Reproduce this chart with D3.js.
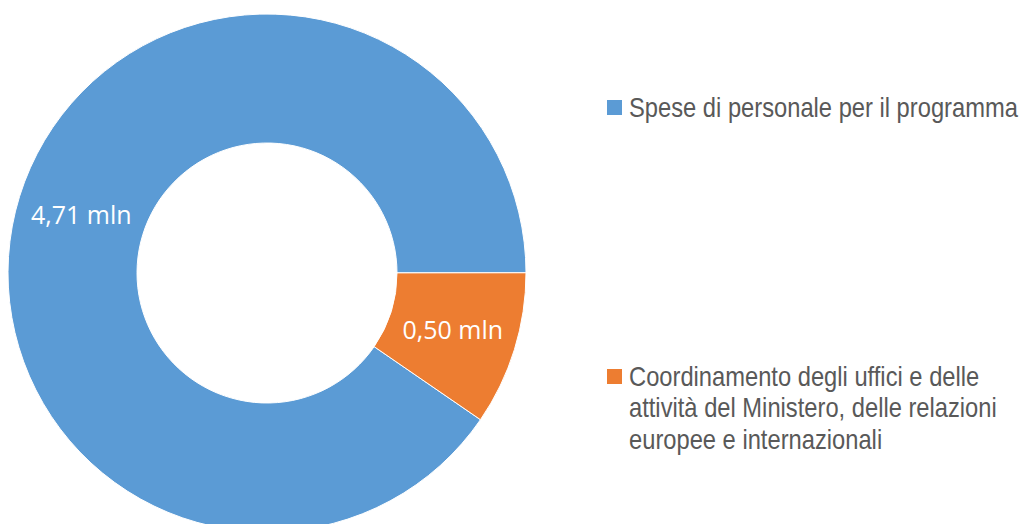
<!DOCTYPE html>
<html>
<head>
<meta charset="utf-8">
<script src="https://cdn.jsdelivr.net/npm/d3@7"></script>
<style>
  body { margin: 0; background: #fff; }
  svg { display: block; }
  .slice-label { font-family: "Open Sans", sans-serif; font-size: 25px; fill: #fff; }
  .legend-text { font-family: "Liberation Sans Narrow", "Arial Narrow", "Liberation Sans", sans-serif; font-size: 27px; fill: #595959; }
</style>
</head>
<body>
<div id="chart"></div>
<script>
// data
var categories = ["Spese di personale per il programma",
                  "Coordinamento degli uffici e delle attività del Ministero, delle relazioni europee e internazionali"];
var values = [4.71, 0.50];
var valueLabels = ["4,71 mln", "0,50 mln"];
var legendLines = [["Spese di personale per il programma"],
                   ["Coordinamento degli uffici e delle", "attività del Ministero, delle relazioni", "europee e internazionali"]];
var colors = ["#5B9BD5", "#ED7D31"];

var width = 1022, height = 524;
var cx = 267, cy = 273, outerR = 259, innerR = 130;
var firstSliceAngle = 124.5; // degrees, clockwise from top

var svg = d3.select("#chart").append("svg")
    .attr("width", width)
    .attr("height", height);

var start = firstSliceAngle * Math.PI / 180;
var pie = d3.pie()
    .sort(null)
    .startAngle(start)
    .endAngle(start + 2 * Math.PI);

var arc = d3.arc()
    .innerRadius(innerR)
    .outerRadius(outerR);

var pieData = pie(values);

var g = svg.append("g")
    .attr("transform", "translate(" + cx + "," + cy + ")");

g.selectAll(".slice")
    .data(pieData)
  .enter().append("path")
    .attr("class", "slice")
    .attr("d", arc)
    .attr("fill", function(d, i) { return colors[i]; })
    .attr("stroke", "#fff")
    .attr("stroke-width", 1);

g.selectAll(".slice-label")
    .data(pieData)
  .enter().append("text")
    .attr("class", "slice-label")
    .attr("transform", function(d) { return "translate(" + arc.centroid(d) + ")"; })
    .attr("text-anchor", "middle")
    .attr("dy", "0.35em")
    .text(function(d, i) { return valueLabels[i]; });

// legend
var legendY = [117, 386];
var lineH = 31.5;
var legendTextWidth = 389; // width of the first legend line in the picture

var legend = svg.selectAll(".legend")
    .data(legendLines)
  .enter().append("g")
    .attr("class", "legend")
    .attr("transform", function(d, i) { return "translate(607," + legendY[i] + ")"; });

legend.append("rect")
    .attr("x", 0)
    .attr("y", -17)
    .attr("width", 15)
    .attr("height", 15)
    .attr("fill", function(d, i) { return colors[i]; });

var texts = legend.append("g")
    .attr("transform", "translate(22,0)")
  .append("text")
    .attr("class", "legend-text");

texts.selectAll("tspan")
    .data(function(d) { return d; })
  .enter().append("tspan")
    .attr("x", 0)
    .attr("dy", function(d, i) { return i === 0 ? 0 : lineH; })
    .text(function(d) { return d; });

// no narrow font installed: squeeze the text horizontally to match
var measured = texts.nodes()[0].getComputedTextLength();
var sx = Math.min(1, legendTextWidth / measured);
texts.attr("transform", "scale(" + sx + ",1)");
</script>
</body>
</html>
